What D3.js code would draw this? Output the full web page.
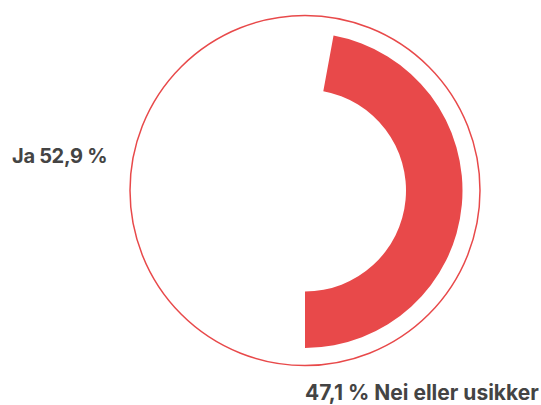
<!DOCTYPE html>
<html>
<head>
<meta charset="utf-8">
<script src="https://cdn.jsdelivr.net/npm/d3@7"></script>
<style>
  body { margin: 0; background: #fff; }
  text { font-family: Inter, "Open Sans", sans-serif; font-weight: 700; fill: #444; }
</style>
</head>
<body>
<div id="chart"></div>
<script>
// ******* Data *******
var answers = ["Ja", "Nei eller usikker"];
var shares = [52.9, 47.1];
var labels = ["Ja 52,9 %", "47,1 % Nei eller usikker"];

// ******* Set up *******
var w = 541;
var h = 405;
var cx = 305;
var cy = 190.5;
var red = "#e8494a";

var svg = d3.select("#chart").append("svg").attr("width", w).attr("height", h);
var g = svg.append("g").attr("transform", `translate(${cx},${cy})`);

// outer thin ring
g.append("circle")
  .attr("r", 175)
  .style("fill", "none")
  .style("stroke", red)
  .style("stroke-width", 1.5);

// pie starts at the bottom and goes round clockwise
var pie = d3.pie().sort(null).startAngle(Math.PI).endAngle(3 * Math.PI);
var arc = d3.arc().innerRadius(101).outerRadius(157.5);
var slices = pie(shares);

g.selectAll(".slice")
  .data(slices)
  .enter()
  .append("path")
  .attr("class", "slice")
  .attr("d", arc)
  .style("fill", (d, i) => i === 1 ? red : "none");

// ******* Labels *******
svg.append("text")
  .attr("x", 12)
  .attr("y", 163)
  .style("font-size", "20px")
  .style("letter-spacing", "-0.3px")
  .text(labels[0]);

svg.append("text")
  .attr("x", 305)
  .attr("y", 400)
  .style("font-size", "21px")
  .text(labels[1]);
</script>
</body>
</html>
